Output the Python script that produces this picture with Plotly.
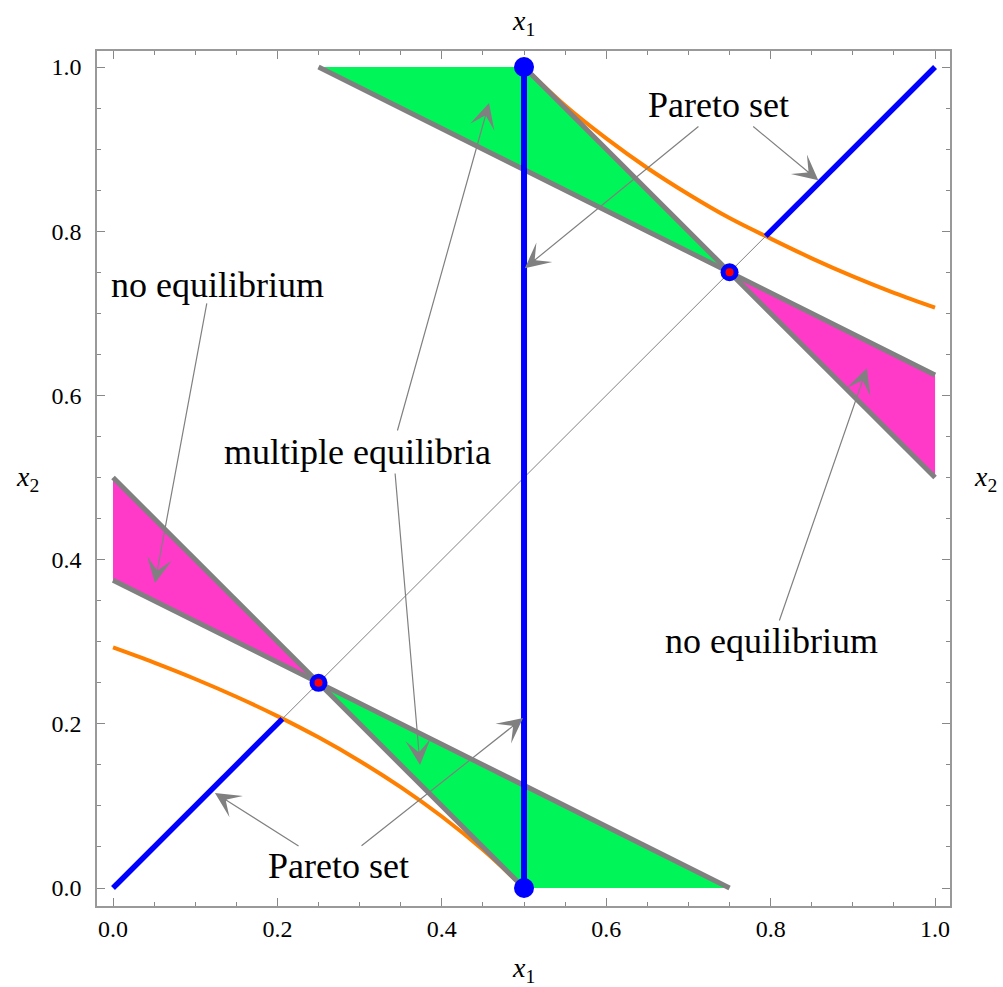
import plotly.graph_objects as go

# ---- data ----
green_top_x = [0.25, 0.5, 0.75]
green_top_y = [1.0, 1.0, 0.75]
green_bot_x = [0.25, 0.5, 0.75]
green_bot_y = [0.25, 0.0, 0.0]
magenta_right_x = [0.75, 1.0, 1.0]
magenta_right_y = [0.75, 0.625, 0.5]
magenta_left_x = [0.0, 0.0, 0.25]
magenta_left_y = [0.5, 0.375, 0.25]

steep_lines = [([0.0, 0.5], [0.5, 0.0]), ([0.5, 1.0], [1.0, 0.5])]
shallow_lines = [([0.0, 0.75], [0.375, 0.0]), ([0.25, 1.0], [1.0, 0.625])]

orange_top_x = [0.5, 0.55, 0.6, 0.65, 0.7, 0.75, 0.8, 0.85, 0.9, 0.95, 1.0]
orange_top_y = [1.0, 0.953, 0.913, 0.877, 0.845, 0.816, 0.791, 0.767, 0.745, 0.725, 0.707]
orange_bot_x = [0.0, 0.05, 0.1, 0.15, 0.2, 0.25, 0.3, 0.35, 0.4, 0.45, 0.5]
orange_bot_y = [0.293, 0.2745, 0.2546, 0.233, 0.2094, 0.1835, 0.1548, 0.1229, 0.0871, 0.0465, 0.0]

diag_x = [0.0, 1.0]
diag_y = [0.0, 1.0]
pareto_vert_x = [0.5, 0.5]
pareto_vert_y = [0.0, 1.0]
pareto_diag_lo = [0.0, 0.206]
pareto_diag_hi = [0.794, 1.0]
pareto_end_x = [0.5, 0.5]
pareto_end_y = [0.0, 1.0]
equil_x = [0.25, 0.75]
equil_y = [0.25, 0.75]

label_text = ["Pareto set", "no equilibrium", "multiple equilibria", "no equilibrium", "Pareto set"]
label_x = [0.736, 0.1265, 0.2968, 0.8005, 0.2737]
label_y = [0.954, 0.7345, 0.531, 0.3008, 0.0268]

arrow_tail_x = [0.714, 0.777, 0.1144, 0.3455, 0.343, 0.81, 0.2275, 0.3005]
arrow_tail_y = [0.929, 0.929, 0.7138, 0.5554, 0.5067, 0.324, 0.05, 0.05]
arrow_head_x = [0.501, 0.858, 0.051, 0.4574, 0.3735, 0.917, 0.124, 0.4988]
arrow_head_y = [0.755, 0.862, 0.3715, 0.9562, 0.1498, 0.633, 0.1157, 0.207]

x_ticks = [0.0, 0.2, 0.4, 0.6, 0.8, 1.0]
y_ticks = [0.0, 0.2, 0.4, 0.6, 0.8, 1.0]

GREEN = "#00F558"
MAGENTA = "#FF3AC8"
GRAY = "#808080"
BLUE = "#0000FF"
ORANGE = "#FF8000"
FONT = "Liberation Serif"

fig = go.Figure()

for xs, ys, col in [(green_top_x, green_top_y, GREEN), (green_bot_x, green_bot_y, GREEN),
                    (magenta_right_x, magenta_right_y, MAGENTA), (magenta_left_x, magenta_left_y, MAGENTA)]:
    fig.add_trace(go.Scatter(x=xs + [xs[0]], y=ys + [ys[0]], fill="toself", fillcolor=col,
                             mode="lines", line=dict(width=0, color=col), hoverinfo="skip"))

fig.add_trace(go.Scatter(x=orange_top_x, y=orange_top_y, mode="lines",
                         line=dict(color=ORANGE, width=4, shape="spline")))
fig.add_trace(go.Scatter(x=orange_bot_x, y=orange_bot_y, mode="lines",
                         line=dict(color=ORANGE, width=4, shape="spline")))

for xs, ys in steep_lines + shallow_lines:
    fig.add_trace(go.Scatter(x=xs, y=ys, mode="lines", line=dict(color=GRAY, width=5)))

fig.add_trace(go.Scatter(x=diag_x, y=diag_y, mode="lines", line=dict(color=GRAY, width=1)))

fig.add_trace(go.Scatter(x=pareto_vert_x, y=pareto_vert_y, mode="lines", line=dict(color=BLUE, width=6)))
fig.add_trace(go.Scatter(x=pareto_diag_lo, y=pareto_diag_lo, mode="lines", line=dict(color=BLUE, width=5.5)))
fig.add_trace(go.Scatter(x=pareto_diag_hi, y=pareto_diag_hi, mode="lines", line=dict(color=BLUE, width=5.5)))

fig.add_trace(go.Scatter(x=pareto_end_x, y=pareto_end_y, mode="markers",
                         marker=dict(color=BLUE, size=20)))
fig.add_trace(go.Scatter(x=equil_x, y=equil_y, mode="markers",
                         marker=dict(color=BLUE, size=18)))
fig.add_trace(go.Scatter(x=equil_x, y=equil_y, mode="markers",
                         marker=dict(color="#FF0000", size=8)))

annotations = []
for tx, ty, hx, hy in zip(arrow_tail_x, arrow_tail_y, arrow_head_x, arrow_head_y):
    annotations.append(dict(x=hx, y=hy, ax=tx, ay=ty, xref="x", yref="y", axref="x", ayref="y",
                            text="", showarrow=True, arrowhead=3, arrowsize=3.5, arrowwidth=1.2,
                            arrowcolor=GRAY, standoff=0, startstandoff=0))
for t, lx, ly in zip(label_text, label_x, label_y):
    annotations.append(dict(x=lx, y=ly, xref="x", yref="y", text=t, showarrow=False,
                            xanchor="center", yanchor="middle",
                            font=dict(family=FONT, size=36, color="black")))

title_font = dict(family=FONT, size=28, color="black")
annotations += [
    dict(x=0.5, y=1.0, xref="paper", yref="paper", yshift=29, text="<i>x</i><sub>1</sub>",
         xanchor="center", yanchor="middle", showarrow=False, font=title_font),
    dict(x=0.5, y=0.0, xref="paper", yref="paper", yshift=-63, text="<i>x</i><sub>1</sub>",
         xanchor="center", yanchor="middle", showarrow=False, font=title_font),
    dict(x=0.0, y=0.5, xref="paper", yref="paper", xshift=-70, text="<i>x</i><sub>2</sub>",
         xanchor="center", yanchor="middle", showarrow=False, font=title_font),
    dict(x=1.0, y=0.5, xref="paper", yref="paper", xshift=35, text="<i>x</i><sub>2</sub>",
         xanchor="center", yanchor="middle", showarrow=False, font=title_font),
]

axis_common = dict(showgrid=False, zeroline=False, showline=True, linecolor="#999999", linewidth=1.5,
                   mirror="allticks", ticks="inside", ticklen=8, tickcolor="#888888", tickwidth=1,
                   tickfont=dict(family=FONT, size=24, color="black"),
                   minor=dict(dtick=0.05, ticks="inside", ticklen=4, tickcolor="#888888", tickwidth=1))

fig.update_layout(
    width=1003, height=987, autosize=False,
    margin=dict(l=97, r=53, t=51, b=81),
    paper_bgcolor="white", plot_bgcolor="white",
    showlegend=False,
    annotations=annotations,
    xaxis=dict(range=[-0.0195, 1.0182], tickvals=x_ticks, ticktext=[f"{v:.1f}" for v in x_ticks],
               ticklabelstandoff=0, **axis_common),
    yaxis=dict(range=[-0.0219, 1.0195], tickvals=y_ticks, ticktext=[f"{v:.1f}" for v in y_ticks],
               ticklabelstandoff=9, **axis_common),
)

# remove the default page margin so the figure sits at the window's top-left corner
fig.write_html("out.html", config={"displayModeBar": False},
               post_script="document.body.style.margin='0px';")
